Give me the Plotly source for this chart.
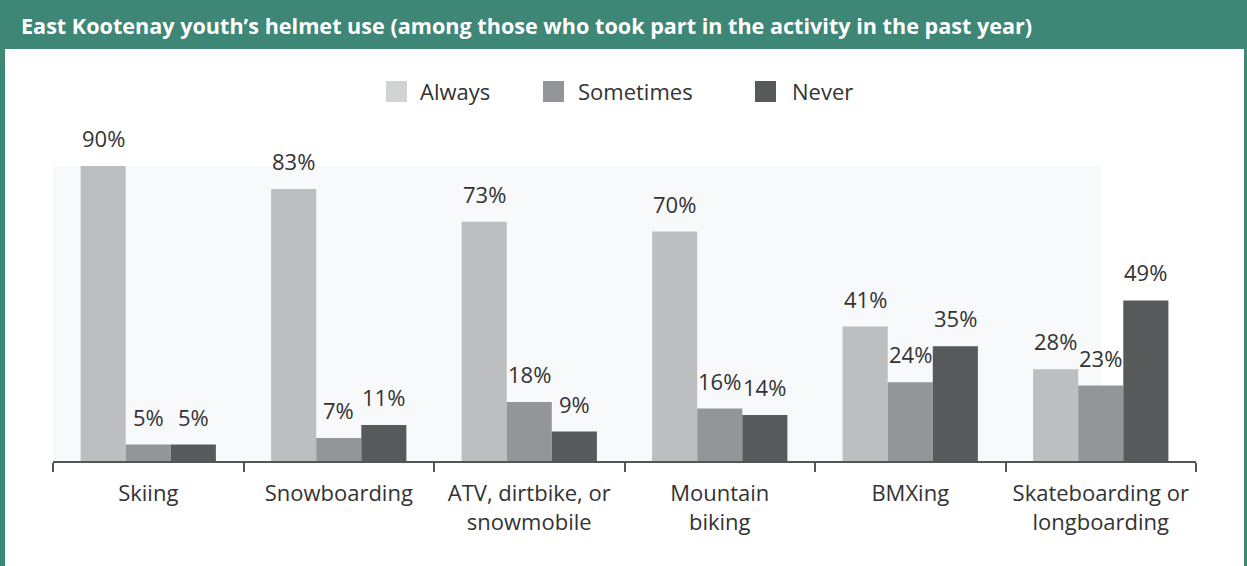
import plotly.graph_objects as go

categories = ["Skiing", "Snowboarding", "ATV, dirtbike, or<br>snowmobile",
              "Mountain<br>biking", "BMXing", "Skateboarding or<br>longboarding"]
series_names = ["Always", "Sometimes", "Never"]
always = [90, 83, 73, 70, 41, 28]
sometimes = [5, 7, 18, 16, 24, 23]
never = [5, 11, 9, 14, 35, 49]
values = [always, sometimes, never]
colors = ["#bcbec0", "#939598", "#58595b"]
legend_colors = ["#d1d2d4", "#939598", "#58595b"]

W, H = 1247, 566
L, R, T, B = 53, 51, 166, 105
pw, ph = W - L - R, H - T - B

def px_x(p):
    return (p - L) / pw

def px_y(p):
    return 1 + (T - p) / ph

green = "#3e8676"
font_fam = "Open Sans, DejaVu Sans, sans-serif"
txt = "#333333"
fs = 22

fig = go.Figure()
for name, vals, c in zip(series_names, values, colors):
    fig.add_trace(go.Bar(name=name, x=categories, y=vals, marker=dict(color=c, line=dict(width=0)),
                         showlegend=False, hoverinfo="skip"))

shapes = []
annotations = []
# light plot background
shapes.append(dict(type="rect", xref="x", yref="y", x0=-0.5, x1=5.0, y0=0, y1=90,
                   fillcolor="#f8f9fa", line=dict(width=0), layer="below"))
# header band
shapes.append(dict(type="rect", xref="paper", yref="paper", x0=px_x(0), x1=px_x(W),
                   y0=px_y(49), y1=px_y(0), fillcolor=green, line=dict(width=0), layer="above"))
# side borders
shapes.append(dict(type="rect", xref="paper", yref="paper", x0=px_x(0), x1=px_x(5),
                   y0=px_y(H), y1=px_y(0), fillcolor=green, line=dict(width=0)))
shapes.append(dict(type="rect", xref="paper", yref="paper", x0=px_x(W - 3), x1=px_x(W),
                   y0=px_y(H), y1=px_y(0), fillcolor=green, line=dict(width=0)))

annotations.append(dict(text="<b>East Kootenay youth’s helmet use (among those who took part in the activity in the past year)</b>",
                        xref="paper", yref="paper", x=px_x(19), y=px_y(26), xanchor="left", yanchor="middle",
                        showarrow=False, font=dict(family=font_fam, size=21.6, color="white")))

# manual legend
leg = [(386, 418), (543, 576), (755, 790)]
for (sx, tx), name, c in zip(leg, series_names, legend_colors):
    shapes.append(dict(type="rect", xref="paper", yref="paper", x0=px_x(sx), x1=px_x(sx + 21),
                       y0=px_y(102), y1=px_y(81), fillcolor=c, line=dict(width=0)))
    annotations.append(dict(text=name, xref="paper", yref="paper", x=px_x(tx), y=px_y(91),
                            xanchor="left", yanchor="middle", showarrow=False,
                            font=dict(family=font_fam, size=fs, color=txt)))

# data labels
offsets = [-45, 0, 45]
for vals, off in zip(values, offsets):
    for cat, v in zip(categories, vals):
        annotations.append(dict(text=f"{v}%", x=cat, y=v, xref="x", yref="y", xshift=off, yshift=11,
                                xanchor="center", yanchor="bottom", showarrow=False,
                                font=dict(family=font_fam, size=fs, color=txt)))

fig.update_layout(
    width=W, height=H,
    margin=dict(l=L, r=R, t=T, b=B),
    paper_bgcolor="white", plot_bgcolor="white",
    barmode="group", bargap=0.29, bargroupgap=0,
    shapes=shapes, annotations=annotations,
    font=dict(family=font_fam, color=txt),
    hovermode=False,
    xaxis=dict(showline=True, linecolor="#555555", linewidth=2, ticks="outside",
               tickson="boundaries", ticklen=9, tickwidth=2, tickcolor="#555555",
               ticklabelstandoff=12,
               tickfont=dict(size=fs, color=txt), showgrid=False),
    yaxis=dict(range=[0, 90], visible=False, showgrid=False),
)

fig.write_html("out.html", config={"displayModeBar": False},
               post_script="document.body.style.margin='0';document.body.style.overflow='hidden';")
